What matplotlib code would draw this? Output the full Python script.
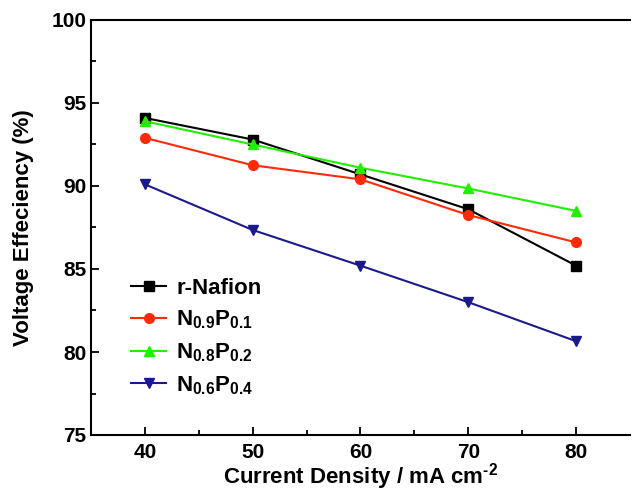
import matplotlib
matplotlib.use("Agg")
import matplotlib.pyplot as plt

plt.rcParams['font.family'] = ['Liberation Sans', 'DejaVu Sans']
plt.rcParams['font.weight'] = 'bold'
plt.rcParams['mathtext.fontset'] = 'custom'
plt.rcParams['mathtext.rm'] = 'Liberation Sans:bold'
plt.rcParams['mathtext.default'] = 'rm'

current = [40, 50, 60, 70, 80]
r_nafion = [94.1, 92.8, 90.7, 88.6, 85.2]
n09p01 = [92.9, 91.25, 90.4, 88.25, 86.6]
n08p02 = [93.9, 92.5, 91.1, 89.85, 88.5]
n06p04 = [90.1, 87.35, 85.2, 83.0, 80.65]

labels = ['r-Nafion', r'$\mathrm{N_{0.9}P_{0.1}}$', r'$\mathrm{N_{0.8}P_{0.2}}$', r'$\mathrm{N_{0.6}P_{0.4}}$']
colors = ['black', '#ff2a0a', '#22ee00', '#1a1a8c']
markers = ['s', 'o', '^', 'v']
series = [r_nafion, n09p01, n08p02, n06p04]

fig = plt.figure(figsize=(6.35, 4.91), dpi=100)
ax = fig.add_axes([91/635, 56/491, 539/635, 415/491])

for vals, lab, c, m in zip(series, labels, colors, markers):
    ax.plot(current, vals, color=c, marker=m, markersize=7, linewidth=1.5, label=lab)

ax.set_xlim(35, 85)
ax.set_ylim(75, 100)
ax.set_xticks([40, 50, 60, 70, 80])
ax.set_xticks([45, 55, 65, 75], minor=True)
ax.set_yticks([75, 80, 85, 90, 95, 100])
ax.set_yticks([77.5, 82.5, 87.5, 92.5, 97.5], minor=True)
ax.tick_params(direction='in', which='major', length=6, width=1.3, labelsize=15)
ax.tick_params(axis='x', which='major', pad=6)
ax.tick_params(direction='in', which='minor', length=3.5, width=1.3)
for lab in ax.get_xticklabels() + ax.get_yticklabels():
    lab.set_fontweight('bold')
for s in ['left', 'bottom', 'top']:
    ax.spines[s].set_linewidth(1.5)
ax.spines['right'].set_visible(False)

ax.set_xlabel('Current Density / mA cm$^{\u2010 2}$', fontsize=16, fontweight='bold', labelpad=-1)
ax.set_ylabel('Voltage Effeciency (%)', fontsize=16, fontweight='bold', labelpad=12)

leg = ax.legend(loc='lower left', bbox_to_anchor=(0.045, 0.055), frameon=False,
                prop={'size': 16, 'weight': 'bold'}, handlelength=1.6, labelspacing=0.45,
                borderaxespad=0.3, handletextpad=0.45)

fig.savefig('out.png', dpi=100)
